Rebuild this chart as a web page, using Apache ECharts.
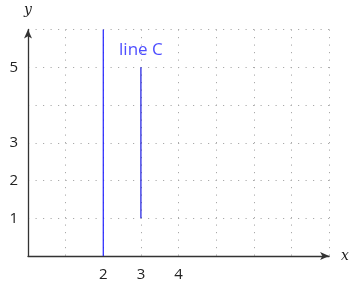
<!DOCTYPE html>
<html><head><meta charset="utf-8">
<script src="https://cdn.jsdelivr.net/npm/echarts@6/dist/echarts.min.js"></script>
<style>html,body{margin:0;padding:0;background:#fff}#c{width:352px;height:283px}</style>
</head><body><div id="c"></div>
<script>
const xTickLabels = [2, 3, 4];
const yTickLabels = [1, 2, 3, 5];
const lineB = [[2, 0], [2, 6]];
const lineC = [[3, 1], [3, 5]];
const labelC = [[3, 5.45]];
const labelText = 'line C';

const chart = echarts.init(document.getElementById('c'), null, {renderer: 'canvas'});
const grid = {color: '#aaa', type: [1.2, 6.3], width: 1};
chart.setOption({
  animation: false,
  grid: {left: 28, right: 22, top: 29.5, bottom: 27, containLabel: false},
  xAxis: {
    type: 'value', min: 0, max: 8, interval: 1,
    axisLine: {lineStyle: {color: '#333', width: 1.3}, symbol: ['none', 'arrow'], symbolSize: [6, 9]},
    axisTick: {show: false},
    splitLine: {show: true, lineStyle: grid},
    axisLabel: {margin: 11, color: '#222', fontSize: 15, fontFamily: 'Open Sans',
      formatter: v => xTickLabels.includes(v) ? String(v) : ''},
    name: 'x', nameLocation: 'end', nameGap: 12,
    nameTextStyle: {fontFamily: 'DejaVu Serif', fontStyle: 'italic', fontSize: 14, color: '#222', verticalAlign: 'middle'}
  },
  yAxis: {
    type: 'value', min: 0, max: 6, interval: 1,
    axisLine: {lineStyle: {color: '#333', width: 1.3}, symbol: ['none', 'arrow'], symbolSize: [6, 9]},
    axisTick: {show: false},
    splitLine: {show: true, lineStyle: grid},
    axisLabel: {margin: 10, color: '#222', fontSize: 15, fontFamily: 'Open Sans',
      formatter: v => yTickLabels.includes(v) ? String(v) : ''},
    name: 'y', nameLocation: 'end', nameGap: 12,
    nameTextStyle: {fontFamily: 'DejaVu Serif', fontStyle: 'italic', fontSize: 14, color: '#222', align: 'center'}
  },
  series: [
    {type: 'line', data: lineB, symbol: 'none', lineStyle: {color: '#2020ff', width: 1.2}, z: 3},
    {type: 'line', data: lineC, symbol: 'none', lineStyle: {color: '#1818e0', width: 1.2}, z: 3},
    {type: 'scatter', data: labelC, symbolSize: 0, z: 4,
      label: {show: true, position: 'inside', formatter: labelText, color: '#2020ff', fontSize: 17, fontFamily: 'Open Sans'}}
  ]
});
</script></body></html>
